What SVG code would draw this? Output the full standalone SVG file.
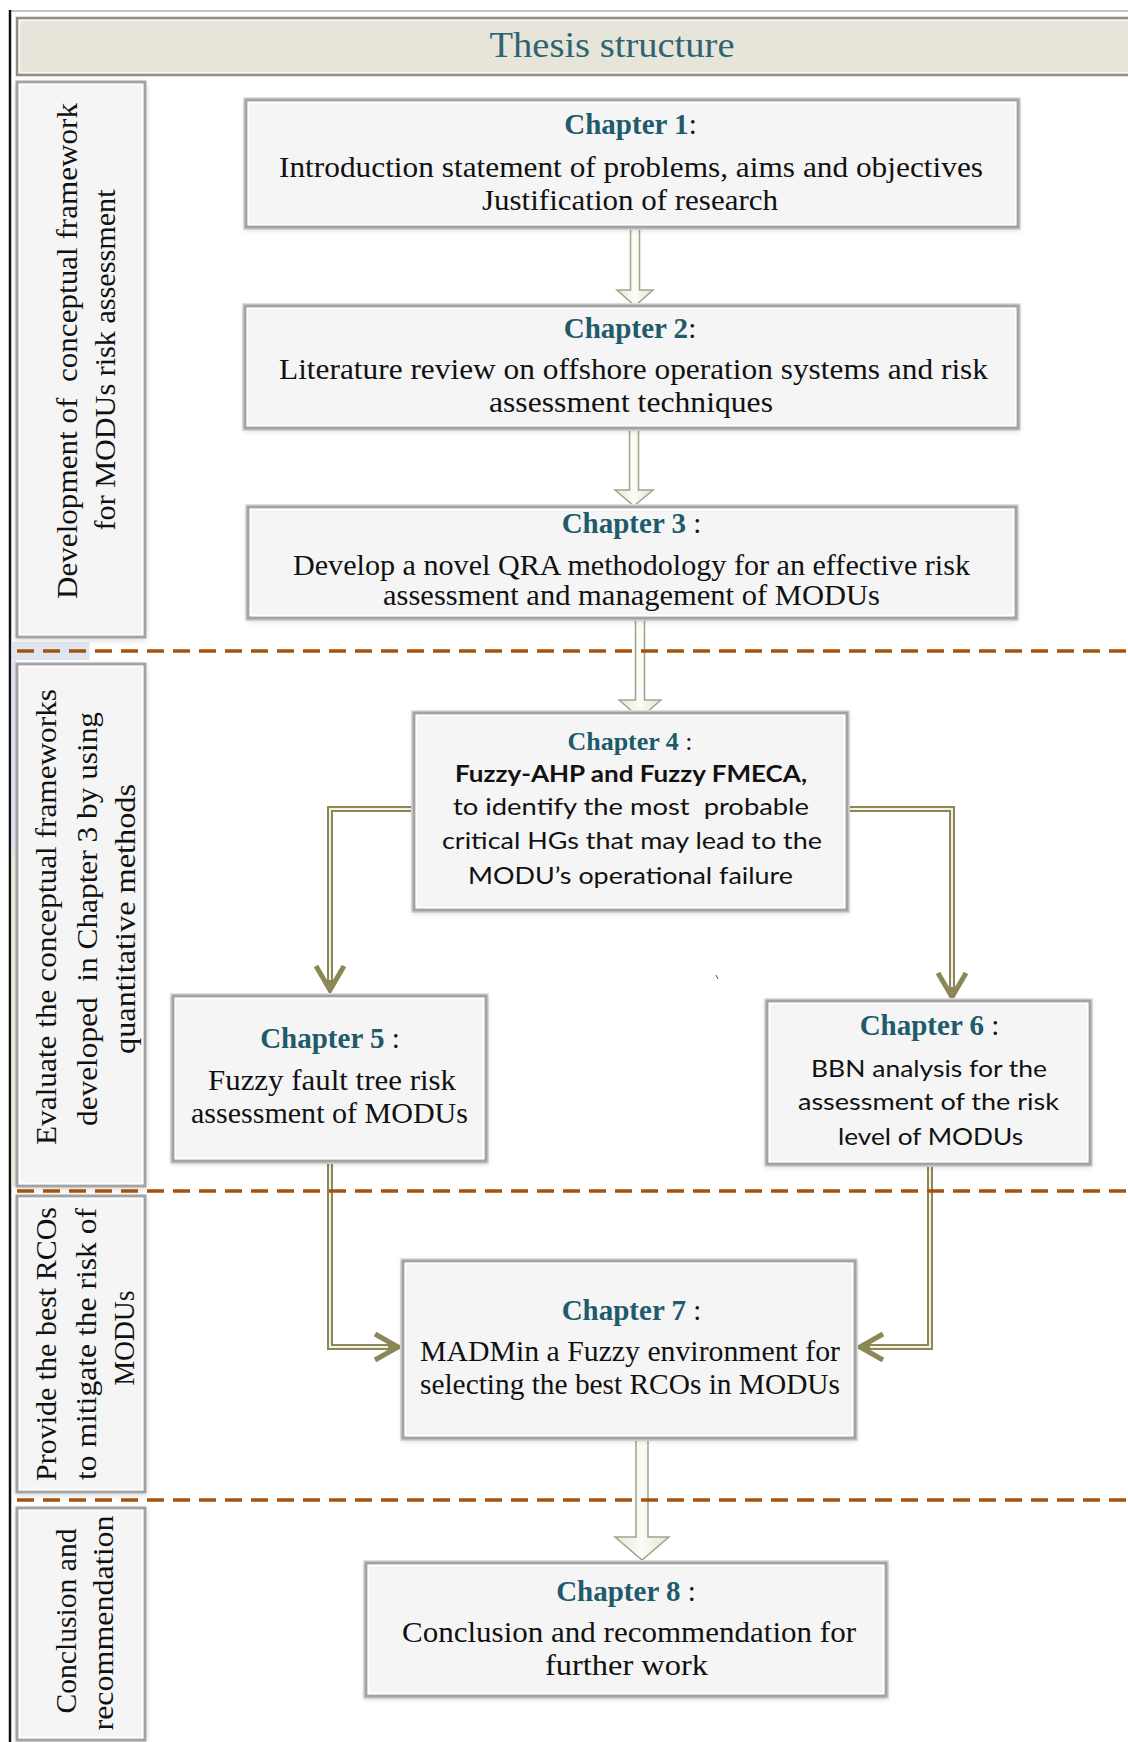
<svg xmlns="http://www.w3.org/2000/svg" width="1128" height="1742" viewBox="0 0 1128 1742">
  <defs>
    <style>
      .box { fill: #f5f5f5; stroke: #a3a3a3; stroke-width: 3; }
      .hl { fill: none; stroke: #ffffff; stroke-width: 1.5; }
      .halo { fill: none; stroke: #e3e3e3; stroke-width: 2; }
      .hd { font-family: "Liberation Serif", serif; font-weight: bold; fill: #215a6a; }
      .colon { font-family: "Liberation Serif", serif; font-weight: normal; fill: #111111; }
      .sr { font-family: "Liberation Serif", serif; font-size: 29px; fill: #111111; }
      .ss { font-family: Lato, "Liberation Sans", sans-serif; font-size: 23px; fill: #111111; }
      .side { font-family: "Liberation Serif", serif; font-size: 30px; fill: #111111; }
      .title { font-family: "Liberation Serif", serif; font-size: 35px; fill: #2d6470; }
      .block { fill: url(#shaftFill); stroke: #a3a28c; stroke-width: 1.5; stroke-linejoin: miter; }
      .olive { fill: none; stroke: #8b8756; stroke-width: 6; }
      .olive-in { fill: none; stroke: #f4f2e6; stroke-width: 2; }
      .chev { fill: none; stroke: #8b8756; stroke-width: 5; stroke-linejoin: miter; stroke-linecap: butt; }
      .dash { fill: none; stroke: #a5520c; stroke-width: 3.5; stroke-dasharray: 17 9; }
    </style>
    <linearGradient id="shaftFill" x1="0" y1="0" x2="1" y2="0">
      <stop offset="0" stop-color="#e6e5d6"/>
      <stop offset="0.5" stop-color="#fdfdf8"/>
      <stop offset="1" stop-color="#e2e1d0"/>
    </linearGradient>
    <filter id="shadow" x="-5%" y="-5%" width="110%" height="115%">
      <feDropShadow dx="0" dy="2" stdDeviation="2.5" flood-color="#000000" flood-opacity="0.14"/>
    </filter>
  </defs>

  <rect x="0" y="0" width="1128" height="1742" fill="#ffffff"/>

  <!-- outer frame -->
  <line x1="10" y1="11" x2="1128" y2="11" stroke="#b0b0b0" stroke-width="1.5"/>
  <line x1="10" y1="10" x2="10" y2="1742" stroke="#111111" stroke-width="2.5"/>
  <rect x="11.5" y="642" width="78" height="18" fill="#dfe6ef"/>
  <rect x="11.5" y="660" width="5" height="190" fill="#e4e9f1"/>
  <rect x="11.5" y="850" width="5" height="336" fill="#f0ede2"/>

  <!-- title bar -->
  <g id="title">
    <rect x="17" y="18" width="1115" height="57" fill="#e7e4d9" stroke="#8e8d86" stroke-width="2.5"/>
    <rect x="19.5" y="20.5" width="1110" height="52" fill="none" stroke="#f8f7f1" stroke-width="1.5"/>
    <text class="title" x="612" y="57" text-anchor="middle" textLength="245" lengthAdjust="spacingAndGlyphs">Thesis structure</text>
  </g>

  <!-- side labels -->
  <g id="phase1">
    <rect class="box" x="17" y="82" width="128" height="555" filter="url(#shadow)"/>
    <rect class="hl" x="19.5" y="84.5" width="123" height="550"/>
    <text class="side" xml:space="preserve" transform="translate(66,351) rotate(-90)" text-anchor="middle" dominant-baseline="central" textLength="496" lengthAdjust="spacingAndGlyphs">Development of  conceptual framework</text>
    <text class="side" transform="translate(104,360) rotate(-90)" text-anchor="middle" dominant-baseline="central" textLength="341" lengthAdjust="spacingAndGlyphs">for MODUs risk assessment</text>
  </g>
  <g id="phase2">
    <rect class="box" x="17" y="664" width="128" height="522" filter="url(#shadow)"/>
    <rect class="hl" x="19.5" y="666.5" width="123" height="517"/>
    <text class="side" transform="translate(45,917) rotate(-90)" text-anchor="middle" dominant-baseline="central" textLength="456" lengthAdjust="spacingAndGlyphs">Evaluate the conceptual frameworks</text>
    <text class="side" xml:space="preserve" transform="translate(86,919) rotate(-90)" text-anchor="middle" dominant-baseline="central" textLength="414" lengthAdjust="spacingAndGlyphs">developed  in Chapter 3 by using</text>
    <text class="side" transform="translate(124,919) rotate(-90)" text-anchor="middle" dominant-baseline="central" textLength="270" lengthAdjust="spacingAndGlyphs">quantitative methods</text>
  </g>
  <g id="phase3">
    <rect class="box" x="17" y="1196" width="128" height="296" filter="url(#shadow)"/>
    <rect class="hl" x="19.5" y="1198.5" width="123" height="291"/>
    <text class="side" transform="translate(45,1344) rotate(-90)" text-anchor="middle" dominant-baseline="central" textLength="274" lengthAdjust="spacingAndGlyphs">Provide the best RCOs</text>
    <text class="side" transform="translate(85,1344) rotate(-90)" text-anchor="middle" dominant-baseline="central" textLength="272" lengthAdjust="spacingAndGlyphs">to mitigate the risk of</text>
    <text class="side" transform="translate(123,1338) rotate(-90)" text-anchor="middle" dominant-baseline="central" textLength="95" lengthAdjust="spacingAndGlyphs">MODUs</text>
  </g>
  <g id="phase4">
    <rect class="box" x="17" y="1508" width="128" height="232" filter="url(#shadow)"/>
    <rect class="hl" x="19.5" y="1510.5" width="123" height="227"/>
    <text class="side" transform="translate(65,1621) rotate(-90)" text-anchor="middle" dominant-baseline="central" textLength="185" lengthAdjust="spacingAndGlyphs">Conclusion and</text>
    <text class="side" transform="translate(102,1623) rotate(-90)" text-anchor="middle" dominant-baseline="central" textLength="215" lengthAdjust="spacingAndGlyphs">recommendation</text>
  </g>

  <!-- connectors -->
  <g id="connectors">
    <path class="block" d="M630.5,228 V290 H617 L635,306 L653,290 H639.5 V228 Z"/>
    <path class="block" d="M629.5,428 V490 H615 L634,506 L653,490 H638.5 V428 Z"/>
    <path class="block" d="M635.5,618 V700 H619 L640,718 L661,700 H644.5 V618 Z"/>
    <path class="block" d="M636,1438 V1537 H615 L642,1560 L669,1537 H648 V1438 Z"/>

    <path class="olive" d="M413,809 H330 V986"/>
    <path class="olive-in" d="M413,809 H330 V980"/>
    <path class="chev" d="M316,966 L330,990 L344,966"/>

    <path class="olive" d="M848,809 H952 V993"/>
    <path class="olive-in" d="M848,809 H952 V987"/>
    <path class="chev" d="M938,973 L952,997 L966,973"/>

    <path class="olive" d="M330,1161 V1347 H394"/>
    <path class="olive-in" d="M330,1161 V1347 H388"/>
    <path class="chev" d="M375,1334 L398,1347 L375,1360"/>

    <path class="olive" d="M930,1164 V1347 H864"/>
    <path class="olive-in" d="M930,1164 V1347 H870"/>
    <path class="chev" d="M883,1334 L860,1347 L883,1360"/>
  </g>

  <!-- phase separators -->
  <g id="separators">
    <line class="dash" x1="17" y1="651" x2="1128" y2="651"/>
    <line class="dash" x1="17" y1="1191" x2="1128" y2="1191"/>
    <line class="dash" x1="17" y1="1500" x2="1128" y2="1500"/>
  </g>

  <!-- chapter nodes -->
  <g id="chapter1">
    <rect class="halo" x="244" y="98" width="776" height="131"/>
    <rect class="box" x="246" y="100" width="772" height="127" filter="url(#shadow)"/>
    <rect class="hl" x="248.5" y="102.5" width="767" height="122"/>
    <text x="630.5" y="134" text-anchor="middle"><tspan class="hd" font-size="29">Chapter 1</tspan><tspan class="colon" font-size="29">:</tspan></text>
    <text class="sr" x="631" y="177" text-anchor="middle" textLength="704" lengthAdjust="spacingAndGlyphs">Introduction statement of problems, aims and objectives</text>
    <text class="sr" x="630" y="210" text-anchor="middle" textLength="296" lengthAdjust="spacingAndGlyphs">Justification of research</text>
  </g>

  <g id="chapter2">
    <rect class="halo" x="243" y="304" width="777" height="126"/>
    <rect class="box" x="245" y="306" width="773" height="122" filter="url(#shadow)"/>
    <rect class="hl" x="247.5" y="308.5" width="768" height="117"/>
    <text x="630" y="338" text-anchor="middle"><tspan class="hd" font-size="29">Chapter 2</tspan><tspan class="colon" font-size="29">:</tspan></text>
    <text class="sr" x="633.5" y="379" text-anchor="middle" textLength="709" lengthAdjust="spacingAndGlyphs">Literature review on offshore operation systems and risk</text>
    <text class="sr" x="631" y="412" text-anchor="middle" textLength="284" lengthAdjust="spacingAndGlyphs">assessment techniques</text>
  </g>

  <g id="chapter3">
    <rect class="halo" x="246" y="505" width="772" height="115"/>
    <rect class="box" x="248" y="507" width="768" height="111" filter="url(#shadow)"/>
    <rect class="hl" x="250.5" y="509.5" width="763" height="106"/>
    <text x="631.5" y="533" text-anchor="middle"><tspan class="hd" font-size="29">Chapter 3</tspan><tspan class="colon" font-size="29"> :</tspan></text>
    <text class="sr" x="631.5" y="575" text-anchor="middle" textLength="677" lengthAdjust="spacingAndGlyphs">Develop a novel QRA methodology for an effective risk</text>
    <text class="sr" x="631.5" y="605" text-anchor="middle" textLength="497" lengthAdjust="spacingAndGlyphs">assessment and management of MODUs</text>
  </g>

  <g id="chapter4">
    <rect class="halo" x="412" y="711" width="437" height="201"/>
    <rect class="box" x="414" y="713" width="433" height="197" filter="url(#shadow)"/>
    <rect class="hl" x="416.5" y="715.5" width="428" height="192"/>
    <text x="630" y="750" text-anchor="middle"><tspan class="hd" font-size="26">Chapter 4</tspan><tspan class="colon" font-size="26"> :</tspan></text>
    <text class="ss" x="631" y="782" text-anchor="middle" font-weight="bold" textLength="352" lengthAdjust="spacingAndGlyphs">Fuzzy-AHP and Fuzzy FMECA,</text>
    <text class="ss" xml:space="preserve" x="631" y="815" text-anchor="middle" textLength="356" lengthAdjust="spacingAndGlyphs">to identify the most  probable</text>
    <text class="ss" x="632" y="849" text-anchor="middle" textLength="380" lengthAdjust="spacingAndGlyphs">critical HGs that may lead to the</text>
    <text class="ss" x="630.5" y="884" text-anchor="middle" textLength="325" lengthAdjust="spacingAndGlyphs">MODU’s operational failure</text>
  </g>

  <g id="chapter5">
    <rect class="halo" x="171" y="994" width="317" height="169"/>
    <rect class="box" x="173" y="996" width="313" height="165" filter="url(#shadow)"/>
    <rect class="hl" x="175.5" y="998.5" width="308" height="160"/>
    <text x="330" y="1048" text-anchor="middle"><tspan class="hd" font-size="29">Chapter 5</tspan><tspan class="colon" font-size="29"> :</tspan></text>
    <text class="sr" x="332" y="1090" text-anchor="middle" textLength="248" lengthAdjust="spacingAndGlyphs">Fuzzy fault tree risk</text>
    <text class="sr" x="329.5" y="1123" text-anchor="middle" textLength="277" lengthAdjust="spacingAndGlyphs">assessment of MODUs</text>
  </g>

  <g id="chapter6">
    <rect class="halo" x="765" y="999" width="327" height="167"/>
    <rect class="box" x="767" y="1001" width="323" height="163" filter="url(#shadow)"/>
    <rect class="hl" x="769.5" y="1003.5" width="318" height="158"/>
    <text x="929.5" y="1035" text-anchor="middle"><tspan class="hd" font-size="29">Chapter 6</tspan><tspan class="colon" font-size="29"> :</tspan></text>
    <text class="ss" x="929" y="1077" text-anchor="middle" textLength="236" lengthAdjust="spacingAndGlyphs">BBN analysis for the</text>
    <text class="ss" x="928.5" y="1110" text-anchor="middle" textLength="261" lengthAdjust="spacingAndGlyphs">assessment of the risk</text>
    <text class="ss" x="930.5" y="1145" text-anchor="middle" textLength="185" lengthAdjust="spacingAndGlyphs">level of MODUs</text>
  </g>

  <g id="chapter7">
    <rect class="halo" x="401" y="1259" width="456" height="181"/>
    <rect class="box" x="403" y="1261" width="452" height="177" filter="url(#shadow)"/>
    <rect class="hl" x="405.5" y="1263.5" width="447" height="172"/>
    <text x="631.5" y="1320" text-anchor="middle"><tspan class="hd" font-size="29">Chapter 7</tspan><tspan class="colon" font-size="29"> :</tspan></text>
    <text class="sr" x="630" y="1361" text-anchor="middle" textLength="420" lengthAdjust="spacingAndGlyphs">MADMin a Fuzzy environment for</text>
    <text class="sr" x="630" y="1394" text-anchor="middle" textLength="420" lengthAdjust="spacingAndGlyphs">selecting the best RCOs in MODUs</text>
  </g>

  <g id="chapter8">
    <rect class="halo" x="364" y="1561" width="524" height="137"/>
    <rect class="box" x="366" y="1563" width="520" height="133" filter="url(#shadow)"/>
    <rect class="hl" x="368.5" y="1565.5" width="515" height="128"/>
    <text x="626" y="1601" text-anchor="middle"><tspan class="hd" font-size="29">Chapter 8</tspan><tspan class="colon" font-size="29"> :</tspan></text>
    <text class="sr" x="629" y="1642" text-anchor="middle" textLength="454" lengthAdjust="spacingAndGlyphs">Conclusion and recommendation for</text>
    <text class="sr" x="626.5" y="1675" text-anchor="middle" textLength="163" lengthAdjust="spacingAndGlyphs">further work</text>
  </g>

  <!-- small stray mark -->
  <line x1="716" y1="975" x2="718" y2="979" stroke="#555555" stroke-width="1"/>
</svg>
